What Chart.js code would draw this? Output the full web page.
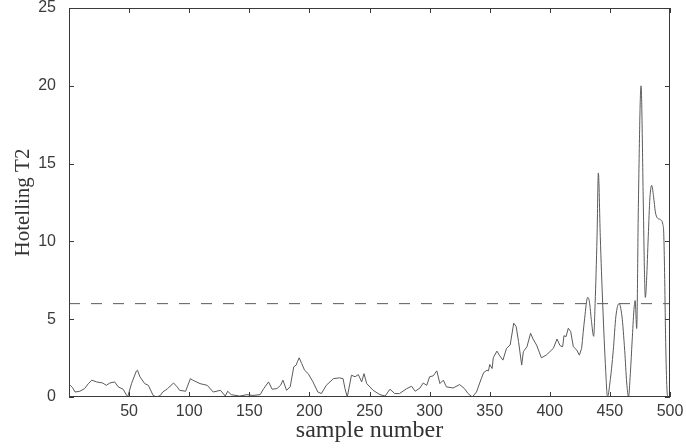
<!DOCTYPE html>
<html>
<head>
<meta charset="utf-8">
<script src="https://cdn.jsdelivr.net/npm/chart.js@4.4.1/dist/chart.umd.min.js"></script>
<style>
  html, body { margin: 0; padding: 0; background: #fff; }
  #wrap { width: 686px; height: 448px; }
</style>
</head>
<body>
<div id="wrap"><canvas id="t2Chart" width="686" height="448"></canvas></div>
<script>
// Hotelling T2 por muestra
// tramo ruidoso: 0 - 426
const roughSample = [0, 1, 3, 5, 9, 13, 16, 19, 23, 28, 31, 34, 38, 41, 45, 48, 49, 52, 56, 57, 59, 63, 66, 70, 73, 76, 78, 82, 87, 90, 92, 97, 101, 103, 109, 115, 120, 126, 130, 132, 135, 142, 148, 153, 159, 162, 166, 169, 173, 176, 178, 181, 184, 187, 189, 190, 191.5, 193.6, 196, 199, 203, 207, 210, 214, 220, 225, 228, 229.6, 231.5, 235, 238, 240.7, 243.5, 245.4, 247.7, 253, 258.7, 263, 267, 271, 275, 281, 285, 288, 292, 294.7, 297.6, 300, 303, 306, 308.6, 311.4, 314, 319.6, 325, 329, 332, 335.5, 339, 343, 345, 347.7, 349, 350, 352, 353, 356, 358, 361, 364, 367, 370, 372, 374, 376.6, 378, 381, 384, 386, 389, 393, 397, 403, 406, 408.5, 410.7, 411.8, 413.5, 415.4, 417.4, 419.6, 422.4, 424.6, 426.5];
const roughT2 = [0.75, 0.75, 0.6, 0.32, 0.37, 0.54, 0.85, 1.08, 0.97, 0.9, 0.75, 0.9, 0.97, 0.65, 0.5, 0.1, 0.05, 0.86, 1.66, 1.72, 1.3, 0.86, 0.75, 0.1, 0, 0.1, 0.32, 0.54, 0.9, 0.65, 0.43, 0.37, 1.18, 1.08, 0.86, 0.75, 0.32, 0.43, 0.06, 0.37, 0.15, 0.06, 0.15, 0.1, 0.15, 0.54, 0.97, 0.5, 0.54, 0.75, 1.08, 0.43, 0.65, 1.94, 2.05, 2.26, 2.52, 2.15, 1.72, 1.5, 0.97, 0.32, 0.22, 0.75, 1.18, 1.23, 1.18, 0.54, 0, 1.4, 1.3, 1.44, 0.97, 1.5, 0.86, 0.43, 0.15, 0.06, 0.5, 0.22, 0.22, 0.54, 0.69, 0.37, 0.58, 0.9, 0.75, 1.3, 1.36, 1.68, 0.86, 1.08, 0.65, 0.58, 0.8, 0.54, 0.22, 0, 0.32, 1.18, 1.57, 1.72, 1.68, 2.09, 1.83, 2.52, 2.95, 2.69, 2.37, 3.13, 3.34, 4.74, 4.53, 3.56, 2.05, 2.91, 3.23, 4.1, 3.73, 3.34, 2.52, 2.69, 3.13, 3.73, 3.3, 3.23, 3.94, 3.88, 4.42, 4.2, 3.23, 3.02, 2.69, 3.13];

// tramo de picos suaves: 426 - 500
const peakSample = [426.5, 429, 431.5, 433, 434.7, 436.5, 437.7, 439.3, 440.4, 442, 444, 446.5, 448, 450, 452.8, 455, 457.6, 460, 462.3, 464, 465.5, 467, 468.5, 470, 471, 472.3, 473.7, 475.9, 477.8, 478.7, 479.5, 480.5, 481.9, 483.3, 484.8, 486.3, 487.8, 489.5, 492, 494, 494.8, 495.5, 496.3, 497.3, 498.3, 500];
const peakT2 = [3.13, 5.06, 6.4, 6.1, 4.85, 3.9, 6, 10.3, 14.4, 10.3, 6, 1.7, 0, 0.9, 3.0, 5.2, 6.0, 5.2, 3.0, 0.9, 0, 1.5, 3.6, 5.6, 6.2, 4.4, 12.4, 20.0, 12.4, 8.2, 6.4, 7.5, 10.3, 12.8, 13.6, 12.9, 11.9, 11.5, 11.4, 11.1, 10.5, 8, 4, 0.8, 0, 0];

// límite de control
const limitSample = [0, 500];
const limitT2 = [6, 6];

const xTickValues = [50, 100, 150, 200, 250, 300, 350, 400, 450, 500];
const yTickValues = [0, 5, 10, 15, 20, 25];

const toPoints = (xs, ys) => xs.map((x, i) => ({ x: x, y: ys[i] }));

const lineColor = '#5a5a5a';
const axisColor = '#3a3a3a';

// Marco y marcas interiores estilo MATLAB
const boxTicksPlugin = {
    id: 'boxTicks',
    afterDraw(chart) {
        const { ctx, chartArea: a, scales } = chart;
        const len = 5;
        ctx.save();
        ctx.strokeStyle = axisColor;
        ctx.lineWidth = 1;
        ctx.strokeRect(a.left + 0.5, a.top + 0.5, a.right - a.left - 1, a.bottom - a.top - 1);
        ctx.beginPath();
        xTickValues.forEach(v => {
            const px = Math.round(scales.x.getPixelForValue(v)) + 0.5;
            ctx.moveTo(px, a.bottom);
            ctx.lineTo(px, a.bottom - len);
            ctx.moveTo(px, a.top);
            ctx.lineTo(px, a.top + len);
        });
        yTickValues.forEach(v => {
            const py = Math.round(scales.y.getPixelForValue(v)) + 0.5;
            ctx.moveTo(a.left, py);
            ctx.lineTo(a.left + len, py);
            ctx.moveTo(a.right, py);
            ctx.lineTo(a.right - len, py);
        });
        ctx.stroke();
        ctx.restore();
    }
};

const ctx = document.getElementById('t2Chart').getContext('2d');
new Chart(ctx, {
    type: 'line',
    data: {
        datasets: [
            {
                data: toPoints(roughSample, roughT2),
                borderColor: lineColor,
                borderWidth: 1,
                pointRadius: 0,
                tension: 0
            },
            {
                data: toPoints(peakSample, peakT2),
                borderColor: lineColor,
                borderWidth: 1,
                pointRadius: 0,
                cubicInterpolationMode: 'monotone'
            },
            {
                data: toPoints(limitSample, limitT2),
                borderColor: lineColor,
                borderWidth: 1,
                borderDash: [11, 11],
                pointRadius: 0
            }
        ]
    },
    options: {
        responsive: false,
        animation: false,
        layout: { padding: { top: 8, right: 16, left: 0, bottom: 0 } },
        plugins: {
            legend: { display: false },
            tooltip: { enabled: false }
        },
        scales: {
            x: {
                type: 'linear',
                min: 0,
                max: 500,
                afterFit: s => { s.height = 51; s.paddingLeft = 0; s.paddingRight = 0; },
                afterBuildTicks: s => { s.ticks = xTickValues.map(v => ({ value: v })); },
                grid: { display: false, drawTicks: false },
                border: { display: false },
                ticks: {
                    padding: 5,
                    color: axisColor,
                    font: { family: 'Liberation Sans, Arial, sans-serif', size: 16 },
                    maxRotation: 0
                },
                title: {
                    display: true,
                    text: 'sample number',
                    color: '#333',
                    font: { family: 'Liberation Serif, Times New Roman, serif', size: 24 },
                    padding: { top: 0, bottom: 3 }
                }
            },
            y: {
                min: 0,
                max: 25,
                afterFit: s => { s.width = 69; s.paddingTop = 0; s.paddingBottom = 0; },
                afterBuildTicks: s => { s.ticks = yTickValues.map(v => ({ value: v })); },
                grid: { display: false, drawTicks: false },
                border: { display: false },
                ticks: {
                    padding: 13,
                    color: axisColor,
                    font: { family: 'Liberation Sans, Arial, sans-serif', size: 16 }
                },
                title: {
                    display: true,
                    text: 'Hotelling T2',
                    color: '#333',
                    font: { family: 'Liberation Serif, Times New Roman, serif', size: 21 },
                    padding: { top: 11, bottom: 0 }
                }
            }
        }
    },
    plugins: [boxTicksPlugin]
});
</script>
</body>
</html>
